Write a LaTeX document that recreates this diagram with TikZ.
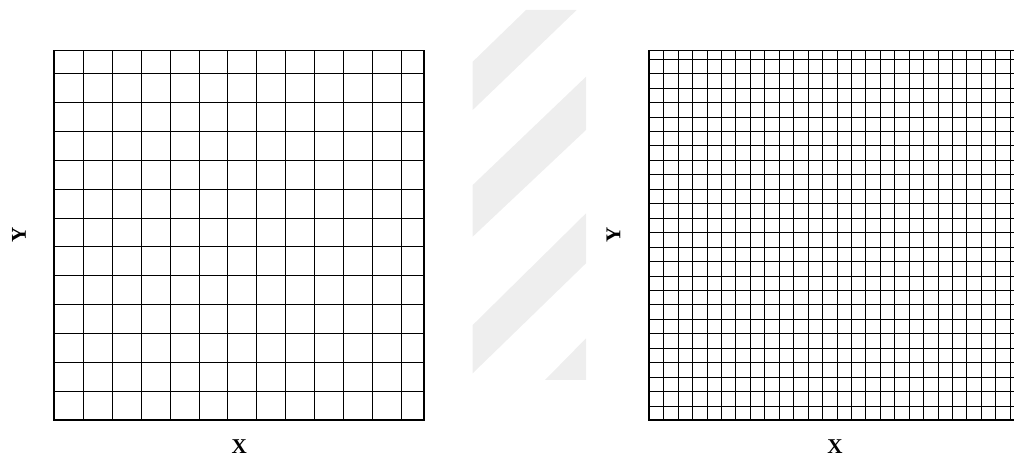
\documentclass[tikz,border=0pt]{standalone}
\usepackage{fontspec}
\setmainfont{Liberation Serif}
\usetikzlibrary{positioning}
\definecolor{wmgray}{RGB}{238,238,238}

\begin{document}
\begin{tikzpicture}[x=.02cm,y=.02cm,frame/.style={line width=1pt},cell/.style={line width=.55pt},axislab/.style={font=\fontsize{12}{14}\selectfont\bfseries,inner sep=0pt},stripe/.style={fill=wmgray}]
\useasboundingbox (0,0) rectangle (1014,459);
\clip (0,0) rectangle (1014,459);

% faint diagonal bands between the two meshes
\fill[stripe] (472.7,397.3)--(526,449)--(576.7,449)--(472.7,349)--cycle;
\fill[stripe] (472.7,274)--(586,382.3)--(586,329)--(472.7,222.3)--cycle;
\fill[stripe] (472.7,134)--(586,245.7)--(586,195.7)--(472.7,85.7)--cycle;
\fill[stripe] (545,79)--(586,120.7)--(586,79)--cycle;

% coarse mesh
\foreach \k in {0,...,11}{
 \draw[cell] ({83.3+28.93*\k},39)--({83.3+28.93*\k},408.5);
 \draw[cell] (54,{67.3+28.95*\k})--(424.3,{67.3+28.95*\k});
}
\draw[frame] (54,39) rectangle (424.3,408.5);
\node[axislab] (xlabA) at (239.2,12) {X};
\node[axislab,rotate=90] (ylabA) at (19,224) {Y};

% fine mesh
\foreach \k in {0,...,24}{
 \draw[cell] ({663.7+14.44*\k},39)--({663.7+14.44*\k},408.5);
 \draw[cell] (648.7,{53+14.445*\k})--(1021.3,{53+14.445*\k});
}
\draw[frame] (648.7,39) rectangle (1021.3,408.5);
\node[axislab] (xlabB) at (835,12) {X};
\node[axislab,rotate=90] (ylabB) at (613.5,224) {Y};
\end{tikzpicture}
\end{document}
